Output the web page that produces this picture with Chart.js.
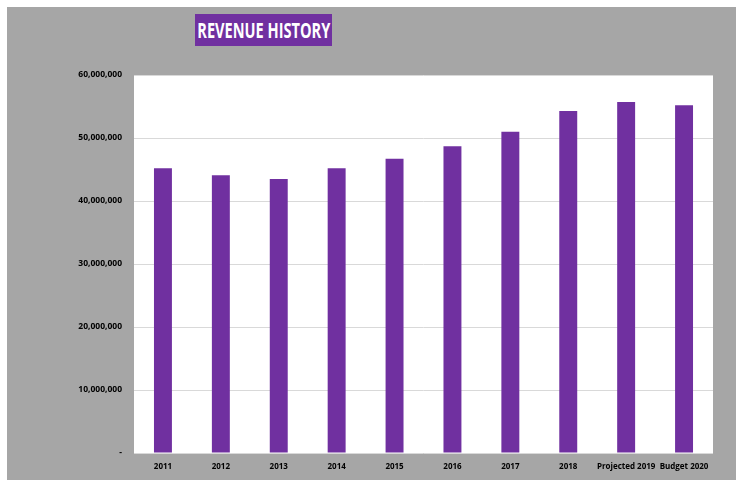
<!DOCTYPE html>
<html>
<head>
<meta charset="utf-8">
<script src="https://cdn.jsdelivr.net/npm/chart.js@4"></script>
<style>
  html, body { margin: 0; padding: 0; background: #ffffff; }
  #wrap {
    position: absolute; left: 7px; top: 7px; width: 729px; height: 473px;
    background: #a6a6a6;
  }
  #title {
    position: absolute; left: 188px; top: 7px; width: 137px; height: 32px;
    background: #7030a0; color: #ffffff;
    display: flex; align-items: center; justify-content: center;
    font-family: "Open Sans", sans-serif; font-weight: bold; font-size: 21px;
    white-space: nowrap;
  }
  #title span { display: inline-block; transform-origin: center; }
  canvas { position: absolute; left: 0; top: 0; }
</style>
</head>
<body>
<div id="wrap">
  <canvas id="chart" width="729" height="473"></canvas>
  <div id="title"><span id="titleText">REVENUE HISTORY</span></div>
</div>
<script>
// ------------------------------------------------------------
// Data
// ------------------------------------------------------------
const years = ["2011", "2012", "2013", "2014", "2015", "2016", "2017", "2018", "Projected 2019", "Budget 2020"];
const revenue = [45200000, 44100000, 43500000, 45200000, 46700000, 48700000, 51000000, 54300000, 55700000, 55200000];
const yTicks = [0, 10000000, 20000000, 30000000, 40000000, 50000000, 60000000];

const PURPLE = "#7030a0";
const yFont = { family: "Open Sans", size: 8.5, weight: "bold" };
const xFont = { family: "Open Sans", size: 8, weight: "bold" };

// squeeze the title text so it fills the box like the narrow original font
const titleText = document.getElementById("titleText");
titleText.style.transform = "scaleX(" + (133 / titleText.getBoundingClientRect().width) + ")";

// white plot area
const plotBackground = {
    id: "plotBackground",
    beforeDraw(chart) {
        const { ctx, chartArea: a } = chart;
        ctx.save();
        ctx.fillStyle = "#ffffff";
        ctx.fillRect(a.left, a.top, a.right - a.left, a.bottom - a.top);
        ctx.restore();
    }
};

new Chart(document.getElementById("chart"), {
    type: "bar",
    data: {
        labels: years,
        datasets: [{
            data: revenue,
            backgroundColor: PURPLE,
            borderWidth: 0,
            barPercentage: 0.31,
            categoryPercentage: 1.0
        }]
    },
    options: {
        responsive: false,
        animation: false,
        layout: { padding: { left: 0, top: 68, right: 23, bottom: 0 } },
        plugins: { legend: { display: false }, tooltip: { enabled: false } },
        scales: {
            x: {
                grid: { display: false },
                border: { display: false },
                ticks: { color: "#000000", font: xFont, padding: 1, maxRotation: 0, autoSkip: false },
                afterFit(scale) { scale.height = 27; }
            },
            y: {
                min: 0,
                max: 60000000,
                afterBuildTicks(scale) { scale.ticks = yTicks.map(v => ({ value: v })); },
                grid: { color: "#d9d9d9", lineWidth: 1, drawTicks: false },
                border: { display: false },
                ticks: {
                    color: "#000000",
                    font: yFont,
                    padding: 12,
                    callback: v => v === 0 ? "-" : v.toLocaleString("en-US")
                },
                afterFit(scale) { scale.width = 127; }
            }
        }
    },
    plugins: [plotBackground]
});
</script>
</body>
</html>
